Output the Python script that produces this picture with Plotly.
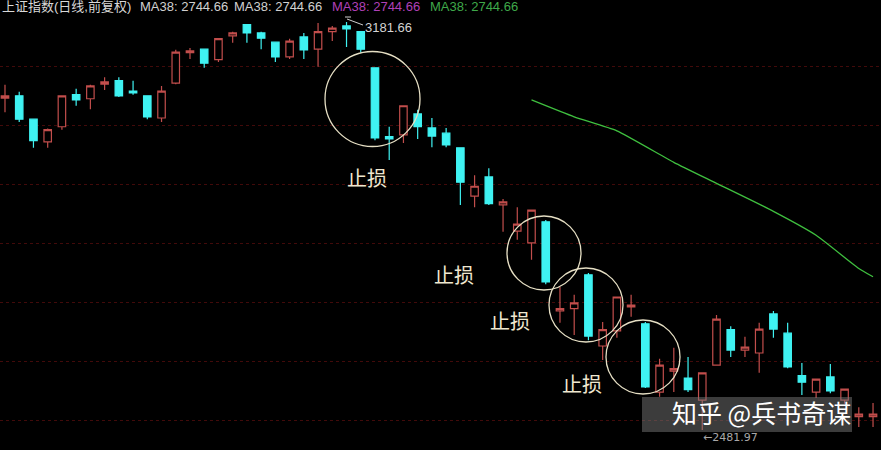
import plotly.graph_objects as go

# ---- data (上证指数 daily candles) ----
opens = [3051, 3055, 3015, 2976, 3002, 3057, 3050, 3075, 3081, 3063,
         3055, 3017, 3077, 3129, 3135, 3117, 3158, 3177, 3163, 3147,
         3122, 3156, 3135, 3165, 3175, 3165, 3103, 2985, 2988, 3024,
         3000, 2991, 2966, 2883, 2916, 2868, 2823, 2803, 2839, 2686,
         2690, 2748, 2626, 2652, 2693, 2664, 2547, 2583, 2571, 2533,
         2593, 2654, 2619, 2614, 2681, 2648, 2575, 2547, 2573, 2533,
         2505, 2505]
highs = [3074, 3062, 3015, 2999, 3055, 3067, 3074, 3087, 3087, 3081,
         3055, 3072, 3134, 3137, 3135, 3153, 3165, 3178, 3165, 3147,
         3153, 3163, 3180, 3175, 3181.66, 3165, 3103, 3002, 3038, 3031,
         3017, 3000, 2966, 2919, 2931, 2878, 2864, 2859, 2842, 2727,
         2714, 2751, 2667, 2710, 2714, 2667, 2604, 2623, 2607, 2580,
         2679, 2660, 2642, 2666, 2686, 2666, 2597, 2569, 2595, 2552,
         2521, 2528]
lows = [3027, 3010, 2966, 2966, 2997, 3038, 3032, 3065, 3053, 3057,
        3015, 3010, 3075, 3118, 3103, 3113, 3146, 3146, 3135, 3113,
        3118, 3118, 3105, 3149, 3139, 3129, 2979, 2945, 2974, 2981,
        2967, 2967, 2868, 2864, 2868, 2822, 2808, 2774, 2732, 2666,
        2645, 2636, 2602, 2640, 2676, 2554, 2539, 2547, 2547, 2481.97,
        2593, 2607, 2607, 2580, 2640, 2588, 2542, 2537, 2545, 2527,
        2487, 2487]
closes = [3055, 3015, 2978, 2997, 3055, 3048, 3072, 3079, 3055, 3060,
          3019, 3063, 3130, 3132, 3111, 3153, 3163, 3163, 3154, 3122,
          3149, 3134, 3165, 3171, 3170, 3135, 2983, 2981, 3038, 3002,
          2986, 2971, 2907, 2900, 2870, 2873, 2835, 2859, 2736, 2690,
          2700, 2643, 2654, 2710, 2696, 2556, 2593, 2587, 2551, 2580,
          2672, 2619, 2624, 2655, 2655, 2590, 2564, 2569, 2549, 2552,
          2509, 2509]
days = list(range(len(opens)))

ma_days = [37, 40, 43, 47, 50, 54, 57, 60, 61]
ma_vals = [3048, 3019, 2995, 2941, 2905, 2857, 2816, 2759, 2744.66]

grid_levels = [3105, 3004, 2903, 2802, 2701, 2600, 2499]

header_parts = ["上证指数(日线,前复权)", "MA38: 2744.66", "MA38: 2744.66",
                "MA38: 2744.66", "MA38: 2744.66"]
stop_label = "止损"
high_label = "3181.66"
low_label = "←2481.97"
watermark = "知乎 @兵书奇谋"

W, H = 881, 450
RED = "#c24e4c"
CYAN = "#3ff2f2"

fig = go.Figure()
fig.add_trace(go.Candlestick(
    x=days, open=opens, high=highs, low=lows, close=closes,
    increasing=dict(line=dict(color=RED, width=1.2), fillcolor="#000000"),
    decreasing=dict(line=dict(color=CYAN, width=1.2), fillcolor=CYAN),
    whiskerwidth=0, hoverinfo="skip", showlegend=False,
))
fig.add_trace(go.Scatter(
    x=ma_days, y=ma_vals, mode="lines",
    line=dict(color="#3fbf3f", width=1.3, shape="spline", smoothing=0.5),
    hoverinfo="skip", showlegend=False,
))


def px(x):
    return x / W


def py(y):
    return 1 - y / H


shapes = []
# stop-loss circles
for (cx, cy, r) in [(372.5, 99, 47.5), (544, 253, 37), (586, 305, 37), (643, 357, 37)]:
    shapes.append(dict(type="circle", xref="paper", yref="paper",
                       x0=px(cx - r), x1=px(cx + r), y0=py(cy + r), y1=py(cy - r),
                       line=dict(color="#e6dfc4", width=1.3)))
# high marker line
shapes.append(dict(type="line", xref="paper", yref="paper",
                   x0=px(347), y0=py(19), x1=px(363), y1=py(25),
                   line=dict(color="#d0d0d0", width=1)))
shapes.append(dict(type="line", xref="paper", yref="paper",
                   x0=px(345), y0=py(17), x1=px(351), y1=py(17),
                   line=dict(color="#d0d0d0", width=1)))
# watermark box
shapes.append(dict(type="rect", xref="paper", yref="paper",
                   x0=px(642), x1=px(852), y0=py(432), y1=py(397),
                   fillcolor="rgba(120,120,120,0.5)", line=dict(width=0), layer="above"))

annotations = []
head_x = [0, 138, 232, 330, 428]
head_col = ["#d8d8d8", "#d0d0d0", "#d0d0d0", "#b040b8", "#3fa84a"]
for t, x, c in zip(header_parts, head_x, head_col):
    annotations.append(dict(text=t, xref="paper", yref="paper", x=px(x), y=py(7),
                            xanchor="left", yanchor="middle", showarrow=False,
                            font=dict(family="Liberation Sans, Noto Sans CJK SC", size=13, color=c)))
for (cx, cy) in [(367, 177), (454, 274), (510, 320), (582, 383)]:
    annotations.append(dict(text=stop_label, xref="paper", yref="paper", x=px(cx), y=py(cy),
                            xanchor="center", yanchor="middle", showarrow=False,
                            font=dict(family="Noto Sans CJK SC", size=20, color="#efe7cf")))
annotations.append(dict(text=high_label, xref="paper", yref="paper", x=px(363), y=py(27),
                        xanchor="left", yanchor="middle", showarrow=False,
                        font=dict(family="Liberation Sans", size=13, color="#d4d4d4")))
annotations.append(dict(text=low_label, xref="paper", yref="paper", x=px(701), y=py(437),
                        xanchor="left", yanchor="middle", showarrow=False,
                        font=dict(family="DejaVu Sans, Liberation Sans", size=11, color="#a8a8a8")))
annotations.append(dict(text=watermark, xref="paper", yref="paper", x=px(761), y=py(412),
                        xanchor="center", yanchor="middle", showarrow=False,
                        font=dict(family="Noto Sans CJK SC", size=25, color="#ffffff")))

fig.update_layout(
    width=W, height=H, margin=dict(l=0, r=0, t=0, b=0),
    paper_bgcolor="#000000", plot_bgcolor="#000000",
    shapes=shapes, annotations=annotations, showlegend=False,
    boxgap=0.25,
    xaxis=dict(range=[-0.351, 61.56], showgrid=False, zeroline=False, showticklabels=False,
               rangeslider=dict(visible=False), fixedrange=True),
    yaxis=dict(range=[2447.6, 3219.4], tickvals=grid_levels, showticklabels=False,
               showgrid=True, gridcolor="#420a0a", griddash="dot", gridwidth=1,
               zeroline=False, fixedrange=True),
)

fig.write_html("out.html", config=dict(displayModeBar=False),
               post_script="document.body.style.margin='0';document.body.style.background='#000';document.body.style.overflow='hidden';")
